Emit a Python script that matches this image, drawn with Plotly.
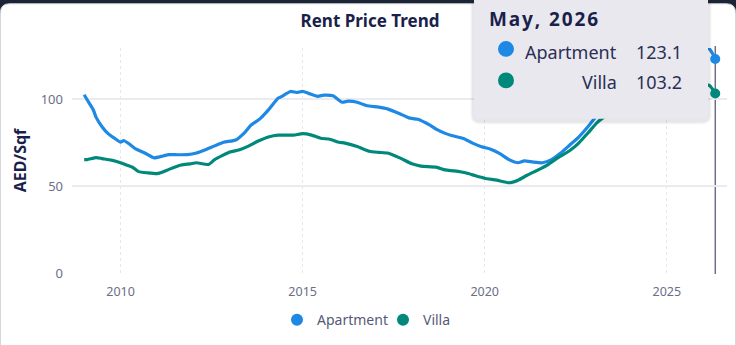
import plotly.graph_objects as go

# ---------------- data ----------------
series_names = ["Apartment", "Villa"]

apt_dates = ["2009-01", "2009-02", "2009-04", "2009-05", "2009-07", "2009-09", "2009-11",
             "2010-01", "2010-02", "2010-04", "2010-06", "2010-09", "2010-12",
             "2011-03", "2011-05", "2011-08", "2011-11",
             "2012-02", "2012-05", "2012-08", "2012-11",
             "2013-03", "2013-06", "2013-08", "2013-11",
             "2014-02", "2014-05", "2014-06", "2014-09", "2014-11",
             "2015-01", "2015-03", "2015-06", "2015-08", "2015-11",
             "2016-02", "2016-04", "2016-07", "2016-10",
             "2017-02", "2017-05", "2017-09", "2017-12",
             "2018-03", "2018-07", "2018-09", "2018-12",
             "2019-02", "2019-06", "2019-09", "2019-12",
             "2020-03", "2020-06", "2020-09", "2020-12",
             "2021-02", "2021-05", "2021-08", "2021-11",
             "2022-02", "2022-05", "2022-08", "2022-11",
             "2023-01", "2023-04", "2023-07", "2023-10",
             "2024-01", "2024-04", "2024-07", "2024-10",
             "2025-01", "2025-04", "2025-07", "2025-10",
             "2026-01", "2026-03", "2026-04", "2026-05"]
apt_vals = [102.5, 99.5, 94.0, 89.5, 84.0, 80.0, 77.5,
            75.2, 76.2, 74.1, 71.4, 69.0, 66.2,
            67.3, 68.1, 68.0, 68.1,
            69.0, 70.9, 73.1, 75.2,
            76.5, 80.9, 85.0, 88.8,
            94.4, 100.6, 101.4, 104.4, 103.8,
            104.4, 103.3, 101.6, 102.3, 101.9,
            98.2, 98.8, 98.2, 96.3,
            95.4, 94.4, 91.6, 89.2,
            88.4, 85.0, 82.7, 80.3,
            79.1, 77.3, 74.7, 72.6,
            71.2, 68.6, 65.2, 63.4,
            64.5, 63.8, 63.4, 65.2,
            69.0, 73.5, 78.2, 84.1,
            88.5, 95.0, 100.0, 105.0,
            109.0, 112.5, 116.0, 119.0,
            121.5, 123.5, 125.5, 127.0,
            128.5, 129.0, 126.5, 123.1]

villa_dates = ["2009-01", "2009-02", "2009-05", "2009-07", "2009-10",
               "2010-01", "2010-03", "2010-05", "2010-07", "2010-10",
               "2011-01", "2011-03", "2011-05", "2011-09", "2011-12",
               "2012-02", "2012-06", "2012-08",
               "2013-01", "2013-04", "2013-07", "2013-10",
               "2014-02", "2014-05", "2014-10",
               "2015-01", "2015-04", "2015-07", "2015-10",
               "2016-01", "2016-03", "2016-07", "2016-11",
               "2017-02", "2017-05", "2017-09",
               "2018-01", "2018-04", "2018-09", "2018-12",
               "2019-03", "2019-07", "2019-10",
               "2020-01", "2020-05", "2020-09", "2020-12",
               "2021-03", "2021-07", "2021-10",
               "2022-01", "2022-05", "2022-08", "2022-11",
               "2023-02", "2023-05", "2023-08", "2023-11",
               "2024-02", "2024-05", "2024-08", "2024-11",
               "2025-02", "2025-06", "2025-11",
               "2026-03", "2026-04", "2026-05"]
villa_vals = [65.2, 65.2, 66.4, 65.8, 64.9,
              63.4, 62.1, 60.8, 58.3, 57.6,
              57.2, 58.1, 59.6, 62.1, 62.8,
              63.4, 62.4, 65.2,
              69.6, 70.7, 72.8, 75.6,
              78.4, 79.3, 79.3,
              80.1, 79.3, 77.5, 76.9,
              75.2, 74.7, 72.8, 70.0,
              69.4, 69.0, 66.2,
              62.8, 61.5, 60.9, 59.3,
              58.7, 57.5, 55.9,
              54.5, 53.4, 51.9, 53.4,
              56.2, 59.6, 62.5,
              66.2, 70.3, 74.7, 80.5,
              86.5, 90.5, 94.0, 97.0,
              99.5, 101.5, 103.0, 104.5,
              105.5, 106.5, 107.5,
              108.0, 106.0, 103.2]

x_tick_vals = ["2010-01-01", "2015-01-01", "2020-01-01", "2025-01-01"]
x_tick_text = ["2010", "2015", "2020", "2025"]
y_tick_vals = [0, 50, 100]
x_range = ["2008-09-01", "2026-08-27"]
y_range = [0, 129.4]

# ---------------- style ----------------
colors = ["#1e88e5", "#00897b"]
FONT = "Noto Sans"
DARK = "#1b1f4b"
TICK = "#6b6e86"

W, H = 736, 345
ML, MR, MT, MB = 72, 9, 48, 68
PW = W - ML - MR
PH = H - MT - MB


def px(x):
    return (x - ML) / PW


def py(y):
    return (H - MB - y) / PH


def rrect(x0, y0, x1, y1, r):
    X0, X1 = px(x0), px(x1)
    Y0, Y1 = py(y0), py(y1)
    rx, ry = r / PW, r / PH
    return (f"M{X0+rx},{Y0} L{X1-rx},{Y0} Q{X1},{Y0} {X1},{Y0-ry} "
            f"L{X1},{Y1+ry} Q{X1},{Y1} {X1-rx},{Y1} L{X0+rx},{Y1} "
            f"Q{X0},{Y1} {X0},{Y1+ry} L{X0},{Y0-ry} Q{X0},{Y0} {X0+rx},{Y0} Z")


fig = go.Figure()
all_dates = [apt_dates, villa_dates]
all_vals = [apt_vals, villa_vals]
for name, d, v, c in zip(series_names, all_dates, all_vals, colors):
    fig.add_trace(go.Scatter(x=d, y=v, mode="lines", name=name,
                             line=dict(color=c, width=3.2, shape="spline", smoothing=0.5),
                             showlegend=False, hoverinfo="skip"))
for name, d, v, c in zip(series_names, all_dates, all_vals, colors):
    fig.add_trace(go.Scatter(x=[d[-1]], y=[v[-1]], mode="markers", name=name,
                             marker=dict(color=c, size=10), showlegend=False, hoverinfo="skip"))
# legend entries
for name, c in zip(series_names, colors):
    fig.add_trace(go.Scatter(x=[None], y=[None], mode="markers", name=name,
                             marker=dict(color=c, size=12, symbol="circle")))

shapes = []
# card
shapes.append(dict(type="path", xref="paper", yref="paper", path=rrect(0.5, 3, 735.5, 380, 9),
                   fillcolor="white", line=dict(color="#d3d6dd", width=1), layer="below"))
# spike line at the last date
shapes.append(dict(type="line", xref="x", yref="paper", x0=apt_dates[-1], x1=apt_dates[-1],
                   y0=py(278), y1=py(46), line=dict(color="#4b4f6b", width=1.2), layer="between"))
# tooltip shadow + box
for i, a in enumerate([0.025, 0.035, 0.05]):
    g = 4 - i
    shapes.append(dict(type="path", xref="paper", yref="paper",
                       path=rrect(474 - g, -8, 708 + g, 121 + g + 1, 6 + g),
                       fillcolor=f"rgba(30,30,60,{a})", line=dict(width=0), layer="above"))
shapes.append(dict(type="path", xref="paper", yref="paper", path=rrect(474, -8, 708, 120, 5),
                   fillcolor="#e8e8ee", line=dict(width=0), layer="above"))
# tooltip markers
for c, cy in zip(colors, [49, 81]):
    shapes.append(dict(type="circle", xref="paper", yref="paper",
                       x0=px(498), x1=px(514), y0=py(cy + 8), y1=py(cy - 8),
                       fillcolor=c, line=dict(width=0), layer="above"))

month_abbr = ["Jan", "Feb", "Mar", "Apr", "May", "Jun", "Jul",
              "Aug", "Sep", "Oct", "Nov", "Dec"]
last = apt_dates[-1]
hdr = f"{month_abbr[int(last[5:7]) - 1]}, {last[:4]}"

ann = []
ann.append(dict(xref="paper", yref="paper", x=px(487), y=py(18), xanchor="left", yanchor="middle",
                text=f"<b>{'&#8202;'.join(hdr)}</b>", showarrow=False,
                font=dict(family=FONT, size=19, color=DARK)))
for name, v, cy in zip(series_names, [apt_vals[-1], villa_vals[-1]], [52, 83]):
    ann.append(dict(xref="paper", yref="paper", x=px(619), y=py(cy), xanchor="right", yanchor="middle",
                    text=name, showarrow=False, font=dict(family=FONT, size=18, color="#2b2f55")))
    ann.append(dict(xref="paper", yref="paper", x=px(684), y=py(cy), xanchor="right", yanchor="middle",
                    text=f"{v:.1f}", showarrow=False, font=dict(family=FONT, size=18, color="#2b2f55")))

fig.update_layout(
    width=W, height=H,
    margin=dict(l=ML, r=MR, t=MT, b=MB),
    paper_bgcolor="#1c2536", plot_bgcolor="rgba(0,0,0,0)",
    title=dict(text="<b>Rent Price Trend</b>", x=370 / W, xanchor="center",
               y=1 - 21 / H, yanchor="middle", yref="container",
               font=dict(family=FONT, size=17, color=DARK)),
    font=dict(family=FONT, color=TICK),
    showlegend=True,
    legend=dict(orientation="h", x=px(277), xanchor="left", y=py(325), yanchor="middle",
                font=dict(family=FONT, size=14, color="#555a78"), itemwidth=30,
                entrywidth=61, entrywidthmode="pixels",
                bgcolor="rgba(0,0,0,0)", tracegroupgap=0),
    shapes=shapes, annotations=ann,
    xaxis=dict(type="date", range=x_range, tickvals=x_tick_vals, ticktext=x_tick_text,
               showgrid=True, gridcolor="#e6e6ec", griddash="dot", gridwidth=1,
               zeroline=False, showline=False, ticks="", ticklabelstandoff=9,
               tickfont=dict(family=FONT, size=12.5, color=TICK)),
    yaxis=dict(range=y_range, tickvals=y_tick_vals, showgrid=True, gridcolor="#ebebef",
               gridwidth=1.5, zeroline=False, showline=False, ticks="",
               ticklabelstandoff=8,
               title=dict(text="<b>AED/Sqf</b>", standoff=10,
                          font=dict(family=FONT, size=16, color=DARK)),
               tickfont=dict(family=FONT, size=13, color=TICK)),
)

fig.write_html("out.html")
